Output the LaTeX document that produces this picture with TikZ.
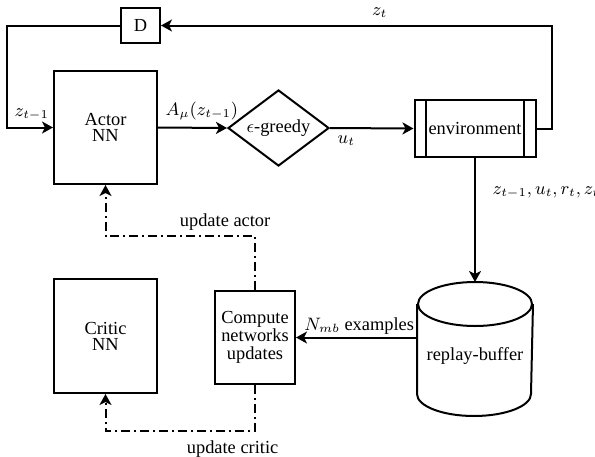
\documentclass[tikz,border=0pt]{standalone}
\usepackage{fontspec}
\setmainfont{Liberation Serif}
\usetikzlibrary{arrows.meta, shapes.geometric, positioning}

\begin{document}
\begin{tikzpicture}[
    x=0.5pt, y=-0.5pt,
    font=\fontsize{9.2}{10}\selectfont,
    line width=1pt,
    box/.style={draw, inner sep=0pt, align=center},
    arr/.style={-{Stealth[length=5.5pt, width=6pt, inset=1.5pt]}},
    upd/.style={arr, dash pattern=on 4.5pt off 2pt on 1pt off 2pt}
  ]
  \useasboundingbox (0,0) rectangle (595,456);

  % blocks
  \node[box, minimum width=19.5pt, minimum height=17.5pt] (D) at (140.5,25.5) {D};
  \node[box, minimum width=51.5pt, minimum height=56.5pt] (actor) at (105.5,127.5) {Actor\\[-2pt]NN};
  \node[box, diamond, aspect=1.33, minimum width=50.5pt, minimum height=38pt] (greedy) at (278.5,128) {$\epsilon$-greedy};
  \node[box, minimum width=60.5pt, minimum height=28.5pt] (env) at (475,128.5) {environment};
  \draw ([xshift=6.4pt]env.north west) -- ([xshift=6.4pt]env.south west);
  \draw ([xshift=-6.4pt]env.north east) -- ([xshift=-6.4pt]env.south east);

  \node[box, minimum width=51.5pt, minimum height=57pt] (critic) at (105.5,336) {Critic\\[-2pt]NN};
  \node[box, minimum width=40pt, minimum height=46.5pt] (compute) at (255,337.5) {Compute\\[-1pt]networks\\[-1pt]updates};

  % replay buffer as a drum
  \node[inner sep=0pt, minimum width=57pt, minimum height=66pt, text height=13.5pt, text depth=2.2pt] (buffer) at (475,349) {replay-buffer};
  \draw ([yshift=-11pt]buffer.north) ellipse [x radius=28.5pt, y radius=11pt];
  \draw ([yshift=-11pt]buffer.north west) -- ([yshift=11pt]buffer.south west)
    arc[start angle=180, end angle=360, x radius=28.5pt, y radius=11pt]
    -- ([yshift=-11pt]buffer.north east);

  % signal flow
  \draw[arr] (env.east) -- ++(15,0) |- node[pos=0.72, above=0pt]{$z_t$} (D.east);
  \draw[arr] (D.west) -- ++(-113,0) |- node[pos=0.5, above right]{$z_{t-1}$} (actor.west);
  \draw[arr] (actor.east) -- node[pos=0, above right]{$A_\mu(z_{t-1})$} (greedy.west);
  \draw[arr] (greedy.east) -- node[pos=0, below right]{$u_t$} (env.west);
  \draw[arr] (env.south) -- node[pos=0.28, right=5pt]{$z_{t-1},u_t,r_t,z_t$} (buffer.north);
  \draw[arr] (buffer.west |- compute.east) -- node[pos=0, above left, inner sep=1pt]{$N_{mb}$ examples} (compute.east);

  % network updates
  \draw[upd] (compute.north) -- ++(0,-54) -| node[pos=0.1, above=-1pt]{update actor} (actor.south);
  \draw[upd] (compute.south) -- ++(0,46) -| node[pos=0.075, below=1pt]{update critic} (critic.south);

\end{tikzpicture}
\end{document}
